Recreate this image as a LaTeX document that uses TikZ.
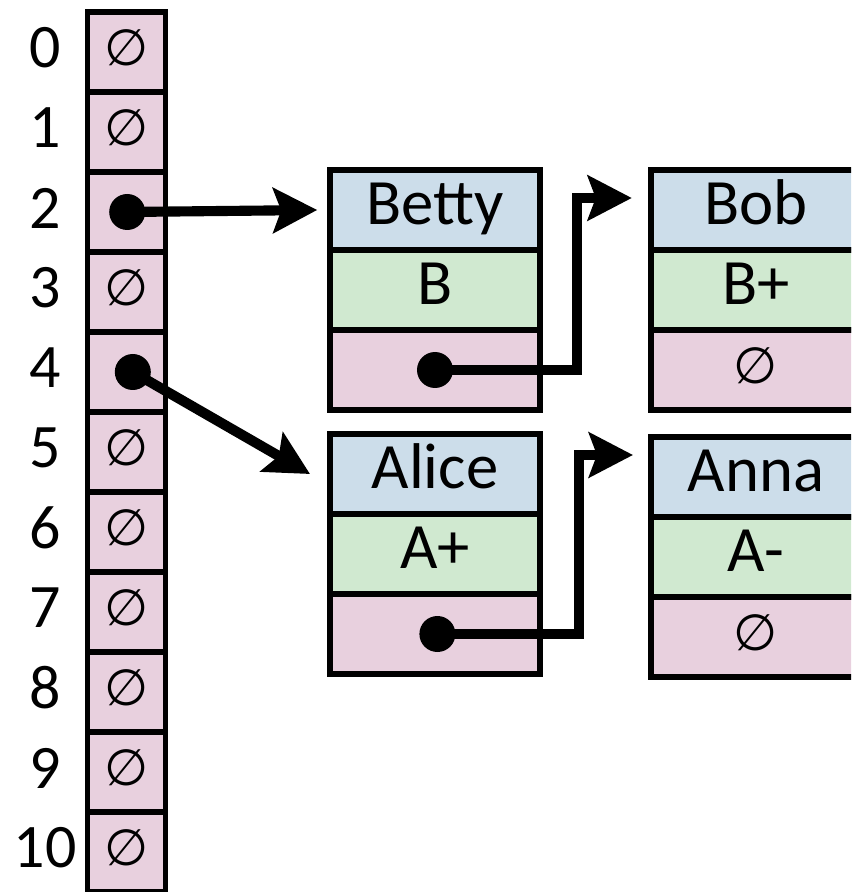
\documentclass[tikz,border=0pt]{standalone}
\usepackage{fontspec}
\setmainfont{Carlito}
\newfontfamily\symbfont{DejaVu Sans}
\usetikzlibrary{positioning,arrows.meta}

\definecolor{cellpink}{HTML}{E8D0DE}
\definecolor{cellblue}{HTML}{CCDDEA}
\definecolor{cellgreen}{HTML}{D0E9D0}

\newcommand{\nil}{{\symbfont\fontsize{18}{21}\selectfont ∅}}

\tikzset{
  cell/.style  = {draw, line width=1.8pt, minimum height=1cm, inner sep=0pt, outer sep=0pt,
                  font=\fontsize{23}{27}\selectfont, text height=16pt, text depth=6pt},
  slot/.style  = {cell, fill=cellpink, minimum width=0.975cm},
  field/.style = {cell, minimum width=2.625cm},
  dot/.style   = {circle, fill, inner sep=0pt, minimum size=0.45cm},
  ptr/.style   = {line width=3.6pt, -{Stealth[length=0.55cm, width=0.56cm, inset=0.1cm]}},
}

\begin{document}
\begin{tikzpicture}
  \useasboundingbox (0,0) rectangle (10.6375,-11.15);
  \clip (0,0) rectangle (10.6375,-11.15);

  % table
  \foreach \i in {0,...,10} {
    \node [slot] (c\i) at (1.58,-0.65-\i) {};
    \node [font=\fontsize{22}{26}\selectfont] (n\i) at (0.5625,-0.6-\i) {\i};
  }
  \foreach \i in {0,1,3,5,6,...,10}
    \node at ([yshift=0.05cm]c\i) {\nil};

  % records
  \node [field, fill=cellblue]                    (betty)   at (5.4375,-2.625) {Betty};
  \node [field, fill=cellgreen, below=0pt of betty]   (betty-g) {B};
  \node [field, fill=cellpink,  below=0pt of betty-g] (betty-n) {};
  \node [field, fill=cellblue]                    (bob)     at (9.45,-2.625)   {Bob};
  \node [field, fill=cellgreen, below=0pt of bob]     (bob-g)   {B+};
  \node [field, fill=cellpink,  below=0pt of bob-g]   (bob-n)   {};
  \node [field, fill=cellblue]                    (alice)   at (5.4375,-5.925) {Alice};
  \node [field, fill=cellgreen, below=0pt of alice]   (alice-g) {A+};
  \node [field, fill=cellpink,  below=0pt of alice-g] (alice-n) {};
  \node [field, fill=cellblue]                    (anna)    at (9.45,-5.9625)  {Anna};
  \node [field, fill=cellgreen, below=0pt of anna]    (anna-g)  {A-};
  \node [field, fill=cellpink,  below=0pt of anna-g]  (anna-n)  {};
  \node at ([yshift=0.05cm]bob-n)  {\nil};
  \node at ([yshift=0.05cm]anna-n) {\nil};

  % pointers
  \node [dot] (p2) at ([xshift=0.01cm]c2) {};
  \node [dot] (p4) at ([xshift=0.08cm]c4) {};
  \node [dot] (pb) at (betty-n) {};
  \node [dot] (pa) at ([xshift=0.03cm]alice-n) {};

  \draw [ptr] (p2.center) -- ([xshift=-0.16cm]betty.west);
  \draw [ptr] (p4.center) -- ([xshift=-0.25cm]alice.west);
  \draw [ptr] (pb.center) -| ([xshift=-0.93cm,yshift=0.15cm]bob.west)
                          -- ([xshift=-0.24cm,yshift=0.15cm]bob.west);
  \draw [ptr] (pa.center) -| ([xshift=-0.9cm,yshift=0.275cm]anna.west)
                          -- ([xshift=-0.225cm,yshift=0.275cm]anna.west);
\end{tikzpicture}
\end{document}
